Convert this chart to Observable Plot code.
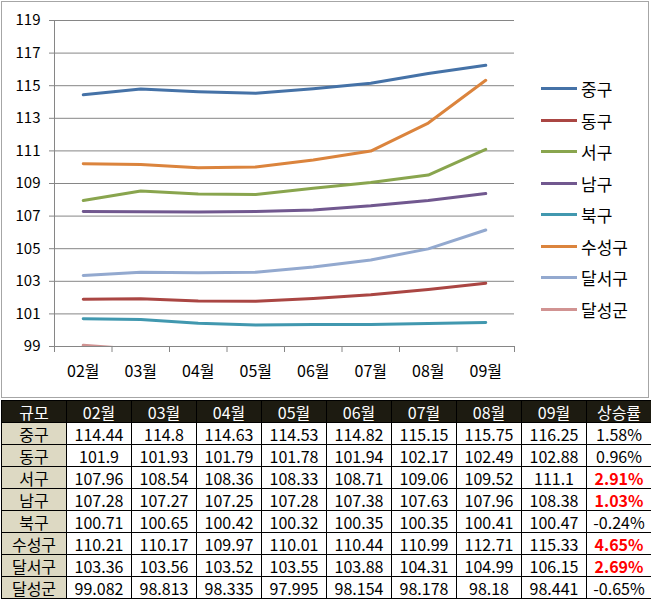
<!DOCTYPE html>
<html><head><meta charset="utf-8">
<script src="https://cdn.jsdelivr.net/npm/d3@7"></script>
<script src="https://cdn.jsdelivr.net/npm/@observablehq/plot@0.6"></script>
<style>
body{margin:0;background:#fff;font-family:"Noto Sans CJK KR","Noto Sans",sans-serif;}
#wrap{position:relative;width:651px;height:398px;}
#border{position:absolute;left:1px;top:1px;width:646px;height:395px;border:1px solid #a6a6a6;pointer-events:none;}
#legend{position:absolute;left:541px;top:73px;}
.li{display:flex;align-items:center;height:31.5px;font-size:17px;color:#000;}
.sw{width:36px;height:3px;margin-right:4px;}
table{border-collapse:collapse;table-layout:fixed;width:649px;margin-left:1px;margin-top:2px;font-size:16px;}
td{border:1px solid #000;height:21px;padding:0;text-align:center;line-height:20px;color:#000;white-space:nowrap;}
tr.h td{background:#1d1b11;color:#fff;}
td.c{background:#ddd9c3;}
td.r{color:#ff0000;font-weight:bold;}
</style></head><body>
<div id="wrap"><div id="chart"></div><div id="border"></div><div id="legend"></div></div>
<div id="tbl"></div>
<script>
const months = ["02월","03월","04월","05월","06월","07월","08월","09월"];
const districts = ["중구","동구","서구","남구","북구","수성구","달서구","달성군"];
const junggu   = [114.44,114.8,114.63,114.53,114.82,115.15,115.75,116.25];
const donggu   = [101.9,101.93,101.79,101.78,101.94,102.17,102.49,102.88];
const seogu    = [107.96,108.54,108.36,108.33,108.71,109.06,109.52,111.1];
const namgu    = [107.28,107.27,107.25,107.28,107.38,107.63,107.96,108.38];
const bukgu    = [100.71,100.65,100.42,100.32,100.35,100.35,100.41,100.47];
const suseonggu= [110.21,110.17,109.97,110.01,110.44,110.99,112.71,115.33];
const dalseogu = [103.36,103.56,103.52,103.55,103.88,104.31,104.99,106.15];
const dalseonggun = [99.082,98.813,98.335,97.995,98.154,98.178,98.18,98.441];
const rates = ["1.58%","0.96%","2.91%","1.03%","-0.24%","4.65%","2.69%","-0.65%"];
const highlighted = [false,false,true,true,false,true,true,false];
const yTicks = [99,101,103,105,107,109,111,113,115,117,119];
const colors = ["#4572a7","#aa4643","#89a54e","#71588f","#4198af","#db843d","#93a9cf","#d19392"];
const series = [junggu,donggu,seogu,namgu,bukgu,suseonggu,dalseogu,dalseonggun];

const rows = [];
series.forEach((vals, s) => vals.forEach((v, i) => rows.push({district: districts[s], i, value: v})));
const idx = months.map((m, i) => i);
const bounds = months.map((m, i) => i - 0.5).concat([months.length - 0.5]);
const grid = "#868686";

const chart = Plot.plot({
  width: 651, height: 398,
  marginLeft: 54, marginRight: 137, marginTop: 20, marginBottom: 52,
  style: {fontFamily: '"Noto Sans CJK KR","Noto Sans",sans-serif', color: "#000", background: "transparent"},
  x: {domain: [-0.5, months.length - 0.5], axis: null},
  y: {domain: [99, 119], axis: null},
  color: {domain: districts, range: colors},
  marks: [
    Plot.ruleY(yTicks, {y: d => d, stroke: grid, strokeWidth: 1}),
    Plot.ruleX([-0.5], {x: d => d, stroke: grid, strokeWidth: 1}),
    Plot.axisY({ticks: yTicks, label: null, tickSize: 5, tickPadding: 9, fontSize: 15, stroke: grid, strokeOpacity: 1}),
    Plot.axisX({ticks: bounds, label: null, tickSize: 6, tickFormat: () => "", stroke: grid, strokeOpacity: 1}),
    Plot.axisX({ticks: idx, label: null, tickSize: 0, tickPadding: 19, fontSize: 16, tickFormat: i => months[i]}),
    Plot.line(rows, {x: "i", y: "value", z: "district", stroke: "district", strokeWidth: 3, clip: true})
  ]
});
document.getElementById("chart").appendChild(chart);

const legend = document.getElementById("legend");
districts.forEach((d, s) => {
  const it = document.createElement("div"); it.className = "li";
  const sw = document.createElement("div"); sw.className = "sw"; sw.style.background = colors[s];
  const lb = document.createElement("span"); lb.textContent = d;
  it.appendChild(sw); it.appendChild(lb); legend.appendChild(it);
});

const table = document.createElement("table");
const cg = document.createElement("colgroup");
for (let k = 0; k < 10; k++) { const c = document.createElement("col"); c.style.width = "65px"; cg.appendChild(c); }
table.appendChild(cg);
const hr = document.createElement("tr"); hr.className = "h";
["규모", ...months, "상승률"].forEach(t => { const td = document.createElement("td"); td.textContent = t; hr.appendChild(td); });
table.appendChild(hr);
districts.forEach((d, s) => {
  const tr = document.createElement("tr");
  const c0 = document.createElement("td"); c0.className = "c"; c0.textContent = d; tr.appendChild(c0);
  series[s].forEach(v => { const td = document.createElement("td"); td.textContent = String(v); tr.appendChild(td); });
  const r = document.createElement("td"); r.textContent = rates[s]; if (highlighted[s]) r.className = "r"; tr.appendChild(r);
  table.appendChild(tr);
});
document.getElementById("tbl").appendChild(table);
</script>
</body></html>
